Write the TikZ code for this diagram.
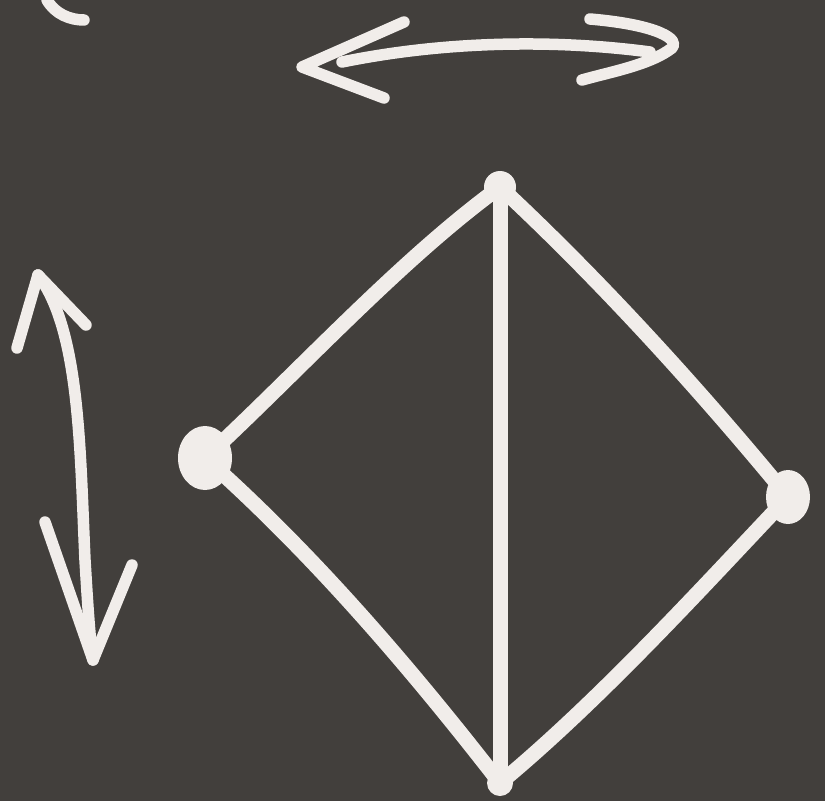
\documentclass[tikz,border=0pt]{standalone}
\begin{document}
\begin{tikzpicture}[x=1pt,y=-1pt,
  chalk/.style={draw=chalkc,line width=15pt,line cap=round,line join=round},
  chalkthin/.style={draw=chalkc,line width=11.5pt,line cap=round,line join=round},
  blob/.style={fill=chalkc,draw=none}]
\definecolor{chalkc}{HTML}{F1EDEA}
\definecolor{board}{HTML}{423F3C}
\fill[board] (0,0) rectangle (825,801);
\useasboundingbox (0,0) rectangle (825,801);
% vertices
\coordinate (T) at (500,187);
\coordinate (L) at (205,458);
\coordinate (R) at (788,497);
\coordinate (B) at (500,783);
% diamond
\draw[chalk] (T) .. controls (400,260) and (300,370) .. (L);
\draw[chalk] (L) .. controls (320,560) and (420,680) .. (B);
\draw[chalk] (B) .. controls (600,700) and (700,590) .. (R);
\draw[chalk] (R) .. controls (700,390) and (600,280) .. (T);
\draw[chalk] (T) -- (B);
% blobs
\fill[blob] (T) circle (16);
\fill[blob] (L) ellipse (27 and 32);
\fill[blob] (R) ellipse (22 and 27);
\fill[blob] (B) circle (13);
% horizontal double arrow
\coordinate (hl) at (302,67);
\coordinate (hr) at (672,48);
\coordinate (hlu) at (404,22);
\coordinate (hld) at (384,98);
\coordinate (hru) at (590,19);
\coordinate (hrd) at (582,80);
\draw[chalkthin] (342,62) .. controls (450,40) and (560,40) .. (650,52);
\draw[chalkthin] (hlu) -- (hl) -- (hld);
\draw[chalkthin] (hru) .. controls (660,25) and (680,40) .. (hr) .. controls (650,65) and (610,72) .. (hrd);
% vertical double arrow
\coordinate (vt) at (38,275);
\coordinate (vb) at (93,660);
\draw[chalkthin] (17,348) -- (vt) -- (86,325);
\draw[chalkthin] (vt) .. controls (80,330) and (80,450) .. (85,560) .. controls (88,610) and (90,640) .. (vb);
\draw[chalkthin] (45,522) -- (vb) -- (132,565);
% corner stroke
\coordinate (c1) at (47,0);
\coordinate (c2) at (84,20);
\draw[chalkthin] (c1) .. controls (55,14) and (70,20) .. (c2);
\end{tikzpicture}
\end{document}
